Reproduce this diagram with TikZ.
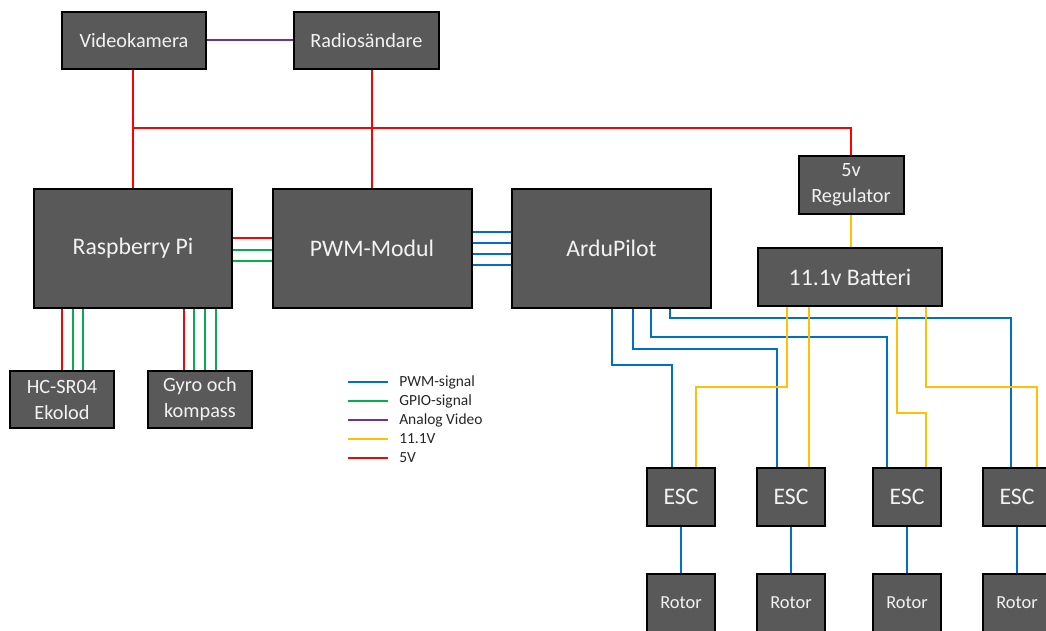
\documentclass[tikz,border=0pt]{standalone}
\usepackage{fontspec}
\setmainfont{Carlito}
\definecolor{boxfill}{HTML}{595959}
\definecolor{boxtext}{HTML}{F2F2F2}
\definecolor{cblue}{HTML}{0070C0}
\definecolor{cgreen}{HTML}{00B050}
\definecolor{cpurple}{HTML}{7030A0}
\definecolor{cyellow}{HTML}{FFC000}
\definecolor{cred}{HTML}{FF0000}
\tikzset{
  box/.style={draw=black, line width=1.5pt, fill=boxfill, text=boxtext, inner sep=0pt, align=center},
  big/.style={font=\fontsize{17.8}{21}\selectfont},
  mid/.style={font=\fontsize{15.2}{19.5}\selectfont},
  sml/.style={font=\fontsize{13.8}{16}\selectfont},
  leg/.style={font=\fontsize{11.6}{14}\selectfont, anchor=west, inner sep=0pt, text=black!85},
  wire/.style={line width=1.5pt},
  pwmw/.style={wire, draw=cblue},
  gpiow/.style={wire, draw=cgreen},
  vidw/.style={wire, draw=cpurple},
  batw/.style={wire, draw=cyellow},
  fivew/.style={wire, draw=cred},
}
\begin{document}
\begin{tikzpicture}[x=0.75pt,y=-0.75pt]
\useasboundingbox (0,0) rectangle (1046,631);
\clip (0,0) rectangle (1046,631);
% boxes
\node[box, mid, minimum width=144*0.75pt, minimum height=57*0.75pt] (vk) at (134,40.5) {Videokamera};
\node[box, mid, minimum width=145*0.75pt, minimum height=57*0.75pt] (rs) at (366.5,40.5) {Radiosändare};
\node[box, big, minimum width=198*0.75pt, minimum height=119*0.75pt] (rpi) at (133,248.5) {Raspberry Pi};
\node[box, big, minimum width=199*0.75pt, minimum height=119*0.75pt] (pwm) at (372,248.5) {PWM-Modul};
\node[box, big, minimum width=199*0.75pt, minimum height=119*0.75pt] (ardu) at (611.5,248.5) {ArduPilot};
\node[box, mid, minimum width=105*0.75pt, minimum height=58*0.75pt] (reg) at (851,185) {5v\\Regulator};
\node[box, big, minimum width=184*0.75pt, minimum height=58*0.75pt] (bat) at (850,277) {11.1v Batteri};
\node[box, mid, minimum width=104*0.75pt, minimum height=57*0.75pt] (hc) at (62,399.5) {HC-SR04\\Ekolod};
\node[box, mid, minimum width=104*0.75pt, minimum height=57*0.75pt] (gyro) at (200,399.5) {Gyro och\\kompass};
\foreach \i/\cx in {1/681,2/791,3/907,4/1017}{
  \node[box, big, minimum width=68*0.75pt, minimum height=58*0.75pt] (esc\i) at (\cx,497) {ESC};
  \node[box, sml, minimum width=68*0.75pt, minimum height=58*0.75pt] (rot\i) at (\cx,603) {Rotor};
}
% top connections
\draw[vidw] (vk.east |- 0,40) -- (rs.west |- 0,40);
\coordinate (jl) at (rpi.north |- 0,128);
\draw[fivew] (vk.south -| jl) -- (rpi.north -| jl);
\draw[fivew] (jl) -- (reg.north |- jl) -- (reg.north);
\draw[fivew] (pwm.north |- rs.south) -- (pwm.north);
\draw[batw] (reg.south) -- (bat.north -| reg.south);
% RPi -> PWM
\foreach \y/\s in {238/fivew,250/gpiow,261/gpiow}{
  \draw[\s] (rpi.east |- 0,\y) -- (pwm.west |- 0,\y);
}
% PWM -> ArduPilot
\foreach \y in {232,243,254,265}{
  \draw[pwmw] (pwm.east |- 0,\y) -- (ardu.west |- 0,\y);
}
% RPi -> sensors
\foreach \x/\s in {62/fivew,73/gpiow,83/gpiow}{
  \draw[\s] (rpi.south -| \x,0) -- (hc.north -| \x,0);
}
\foreach \x/\s in {184/fivew,194/gpiow,205/gpiow,216/gpiow}{
  \draw[\s] (rpi.south -| \x,0) -- (gyro.north -| \x,0);
}
% ArduPilot -> ESCs
\draw[pwmw] (ardu.south -| 612,0) |- (672,365) -- (esc1.north -| 672,0);
\draw[pwmw] (ardu.south -| 633,0) |- (777,349) -- (esc2.north -| 777,0);
\draw[pwmw] (ardu.south -| 651,0) |- (887,337) -- (esc3.north -| 887,0);
\draw[pwmw] (ardu.south -| 670,0) |- (1011,318) -- (esc4.north -| 1011,0);
% Battery -> ESCs
\draw[batw] (bat.south -| 787,0) |- (696,387) -- (esc1.north -| 696,0);
\draw[batw] (bat.south -| 809,0) -- (esc2.north -| 809,0);
\draw[batw] (bat.south -| 897,0) |- (926,413) -- (esc3.north -| 926,0);
\draw[batw] (bat.south -| 926,0) |- (1037,387) -- (esc4.north -| 1037,0);
% ESC -> Rotor
\foreach \i in {1,2,3,4}{
  \draw[pwmw] (esc\i.south) -- (rot\i.north);
}
% legend
\foreach \n/\y/\s/\t in {l1/382/pwmw/PWM-signal,l2/401/gpiow/GPIO-signal,l3/420/vidw/Analog Video,l4/439/batw/11.1V,l5/458/fivew/5V}{
  \node[leg] (\n) at (399,\y) {\t};
  \coordinate (\n a) at (348,\y);
  \coordinate (\n b) at (388,\y);
  \draw[\s] (\n a) -- (\n b);
}
\end{tikzpicture}
\end{document}
